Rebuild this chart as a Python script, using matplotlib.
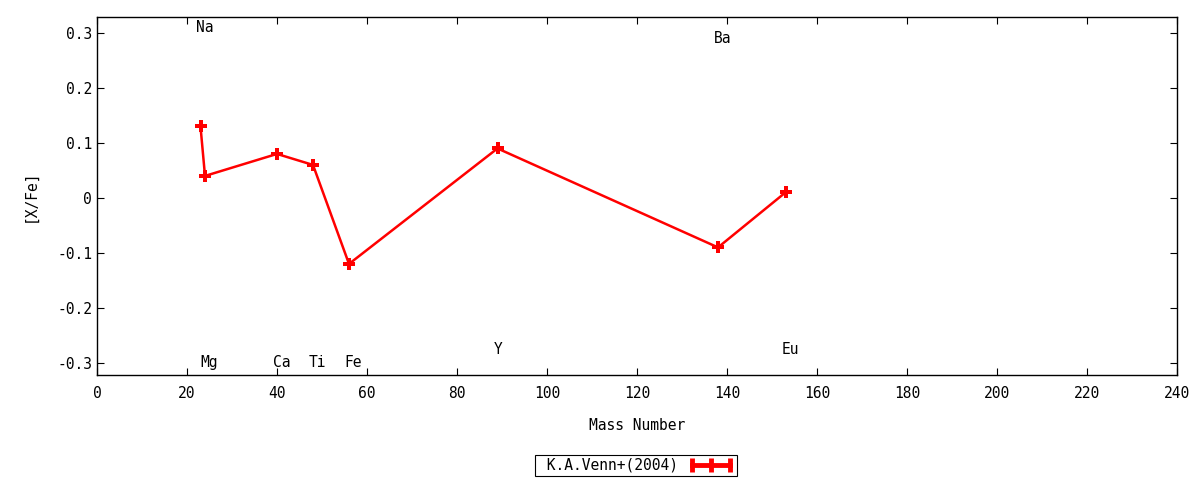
import matplotlib
matplotlib.use("Agg")
import matplotlib.pyplot as plt
from matplotlib.lines import Line2D
from matplotlib.transforms import offset_copy

# Venn et al. (2004) abundances vs mass number
elements = ["Na", "Mg", "Ca", "Ti", "Fe", "Y", "Ba", "Eu"]
mass = [23, 24, 40, 48, 56, 89, 138, 153]
xfe = [0.13, 0.04, 0.08, 0.06, -0.12, 0.09, -0.09, 0.01]
label_y = [0.31, -0.30, -0.30, -0.30, -0.30, -0.275, 0.29, -0.275]

plt.rcParams['font.family'] = ['DejaVu Sans Mono']
plt.rcParams['font.size'] = 10.5

fig = plt.figure(figsize=(12, 4.8), dpi=100)
ax = fig.add_axes((97 / 1200, 1 - 375 / 480, 1080 / 1200, 358 / 480))

ax.plot(mass, xfe, color='red', lw=1.8, marker='P', markersize=9,
        markeredgewidth=0, zorder=3)

# element labels, nudged a little to the left like the original
lbl_tr = offset_copy(ax.transData, fig=fig, x=-3, y=0, units='points')
for el, m, ly in zip(elements, mass, label_y):
    ax.text(m, ly, el, ha='left', va='center', transform=lbl_tr)

ax.set_xlim(0, 240)
ax.set_ylim(-0.322, 0.329)
ax.set_xticks(range(0, 241, 20))
ax.set_yticks([-0.3, -0.2, -0.1, 0, 0.1, 0.2, 0.3])
ax.set_yticklabels(["-0.3", "-0.2", "-0.1", "0", "0.1", "0.2", "0.3"])
ax.tick_params(direction='in', top=True, right=True, length=5, width=0.8)
ax.tick_params(axis='x', pad=8)
for s in ax.spines.values():
    s.set_linewidth(1)

ax.set_xlabel("Mass Number", labelpad=12)
ax.set_ylabel("[X/Fe]", labelpad=14)

handle = Line2D([], [], color='red', lw=3.5, marker='|', markersize=10,
                markeredgewidth=3.5)
leg = fig.legend([handle], [" K.A.Venn+(2004)"], loc='center',
                 bbox_to_anchor=(0.53, 0.031), numpoints=3, markerfirst=False,
                 handlelength=3.2, fancybox=False, edgecolor='black',
                 framealpha=1, borderpad=0.2, handletextpad=0.7,
                 borderaxespad=0)
leg.get_frame().set_linewidth(0.8)

fig.savefig("out.png", dpi=100)
